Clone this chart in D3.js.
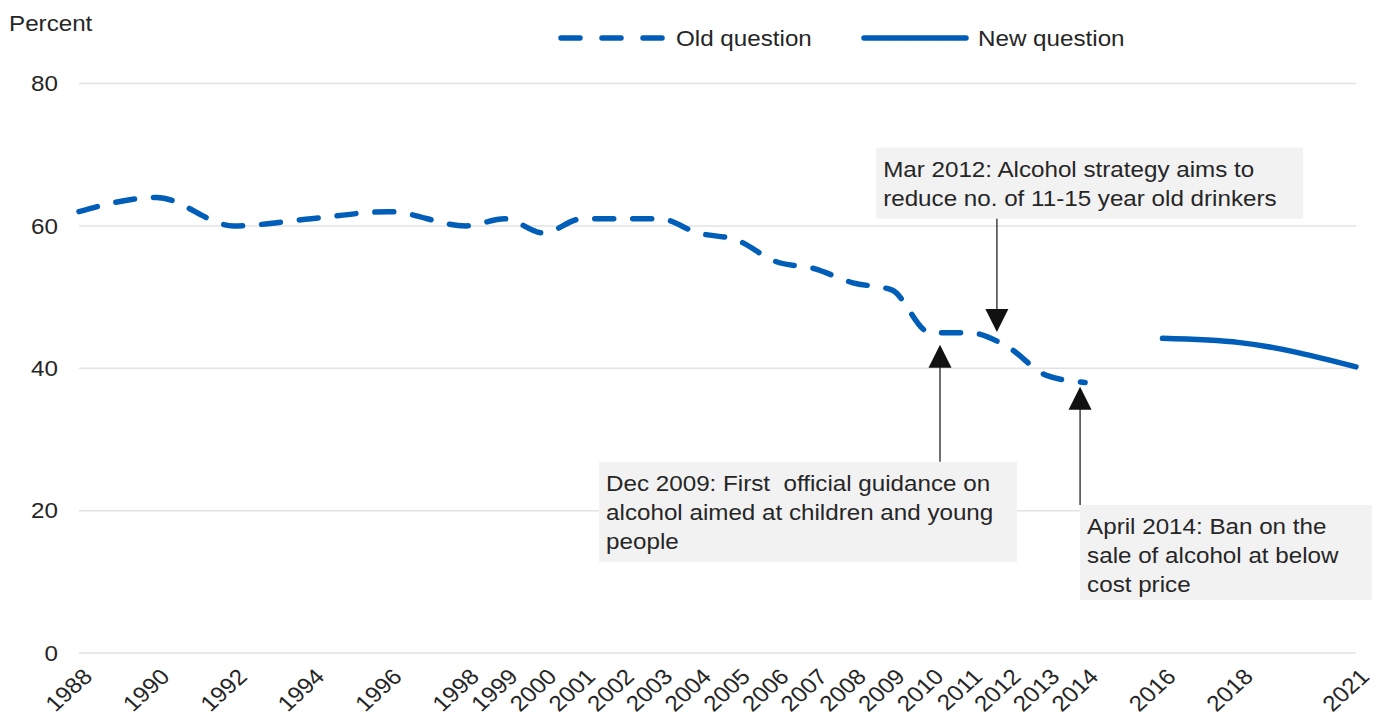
<!DOCTYPE html>
<html>
<head>
  <meta charset="utf-8">
  <title>Pupils who have ever had an alcoholic drink</title>
  <style>
    body { margin: 0; background: #fff; }
    svg { display: block; font-family: "Liberation Sans", Arial, sans-serif; }
    text { white-space: pre; }
  </style>
  <script src="https://d3js.org/d3.v7.min.js"></script>
</head>
<body>
<svg width="1378" height="718"></svg>

<script>
// data
const oldYears = [1988, 1990, 1992, 1994, 1996, 1998, 1999, 2000, 2001, 2002, 2003,
                  2004, 2005, 2006, 2007, 2008, 2009, 2010, 2011, 2012, 2013, 2014];
const oldValues = [62, 64, 60, 61, 62, 60, 61, 59, 61, 61, 61,
                   59, 58, 55, 54, 52, 51, 45, 45, 43, 39, 38];
const newYears = [2016, 2018, 2021];
const newValues = [44.2, 43.6, 40.2];
const yTicks = [0, 20, 40, 60, 80];
const xTicks = oldYears.concat(newYears);

// annotations (year / percent units)
const notes = [
  { lines: ["Mar 2012: Alcohol strategy aims to", "reduce no. of 11-15 year old drinkers"],
    box: [2008.6, 71.0, 2019.63, 61.0], arrowX: 2011.72, from: 61.0, to: 45.1 },
  { lines: ["Dec 2009: First  official guidance on", "alcohol aimed at children and young", "people"],
    box: [2001.44, 26.85, 2012.24, 12.8], arrowX: 2010.25, from: 26.85, to: 43.3 },
  { lines: ["April 2014: Ban on the", "sale of alcohol at below", "cost price"],
    box: [2013.87, 20.8, 2021.41, 7.45], arrowX: 2013.87, from: 20.8, to: 37.4 }
];

const blue = "#005eb8";
const ink = "#262626";
const stretch = 1.1; // the original text is a little wider than Arial
const svg = d3.select("svg");

const x = d3.scaleLinear().domain([1988, 2021]).range([79, 1356]);
const y = d3.scaleLinear().domain([0, 80]).range([653, 83.5]);

function label(parent, tx, ty, str, anchor, dy) {
  return parent.append("text")
    .attr("transform", `translate(${tx},${ty}) scale(${stretch},1)`)
    .attr("text-anchor", anchor || "start")
    .attr("dy", dy || 0)
    .attr("font-size", 22)
    .attr("fill", ink)
    .text(str);
}

// gridlines
svg.append("g")
  .selectAll("line")
  .data(yTicks)
  .enter().append("line")
    .attr("x1", x(1988))
    .attr("x2", x(2021))
    .attr("y1", d => y(d))
    .attr("y2", d => y(d))
    .attr("stroke", "#e3e3e3")
    .attr("stroke-width", 1.5);

// y labels
const yLab = svg.append("g");
yTicks.forEach(d => label(yLab, 58, y(d), d, "end", "0.35em"));

label(svg, 9, 31, "Percent");

// x axis labels, rotated
const xAxis = svg.append("g")
  .attr("transform", "translate(0,670)")
  .call(d3.axisBottom(x).tickValues(xTicks).tickFormat(d3.format("d")).tickSize(0));
xAxis.select(".domain").remove();
xAxis.selectAll("text")
  .attr("font-size", 22)
  .attr("font-family", "Liberation Sans, Arial, sans-serif")
  .attr("fill", ink)
  .attr("text-anchor", "end")
  .attr("y", 0)
  .attr("x", 0)
  .attr("dy", "0.71em")
  .attr("transform", `translate(2,-3) scale(${stretch},1) rotate(-45)`);

// lines
const line = d3.line()
  .x(d => x(d[0]))
  .y(d => y(d[1]))
  .curve(d3.curveMonotoneX);

svg.append("path")
  .datum(d3.zip(oldYears, oldValues))
  .attr("d", line)
  .attr("fill", "none")
  .attr("stroke", blue)
  .attr("stroke-width", 5.5)
  .attr("stroke-linecap", "round")
  .attr("stroke-dasharray", "19,19");

svg.append("path")
  .datum(d3.zip(newYears, newValues))
  .attr("d", line)
  .attr("fill", "none")
  .attr("stroke", blue)
  .attr("stroke-width", 5.5)
  .attr("stroke-linecap", "round");

// annotations
const note = svg.append("g")
  .selectAll("g")
  .data(notes)
  .enter().append("g");

note.append("rect")
  .attr("x", d => x(d.box[0]))
  .attr("y", d => y(d.box[1]))
  .attr("width", d => x(d.box[2]) - x(d.box[0]))
  .attr("height", d => y(d.box[3]) - y(d.box[1]))
  .attr("fill", "#f2f2f2");

note.each(function(d) {
  const g = d3.select(this);
  d.lines.forEach((t, i) => label(g, x(d.box[0]) + 7, y(d.box[1]) + 29 + i * 29, t));

  const ax = x(d.arrowX);
  const y0 = y(d.from), y1 = y(d.to);
  const dir = y1 > y0 ? 1 : -1;
  g.append("line")
    .attr("x1", ax).attr("x2", ax)
    .attr("y1", y0).attr("y2", y1 - dir * 20)
    .attr("stroke", "#404040")
    .attr("stroke-width", 1.5);
  g.append("path")
    .attr("d", `M${ax},${y1} L${ax - 11.5},${y1 - dir * 23} L${ax + 11.5},${y1 - dir * 23} Z`)
    .attr("fill", "#111");
});

// legend
const legend = svg.append("g");
legend.append("line")
  .attr("x1", 561).attr("x2", 666).attr("y1", 38).attr("y2", 38)
  .attr("stroke", blue).attr("stroke-width", 5.5)
  .attr("stroke-linecap", "round")
  .attr("stroke-dasharray", "19,22");
label(legend, 676, 38, "Old question", "start", "0.35em");
legend.append("line")
  .attr("x1", 864).attr("x2", 966).attr("y1", 38).attr("y2", 38)
  .attr("stroke", blue).attr("stroke-width", 5.5)
  .attr("stroke-linecap", "round");
label(legend, 978, 38, "New question", "start", "0.35em");
</script>
</body>
</html>
